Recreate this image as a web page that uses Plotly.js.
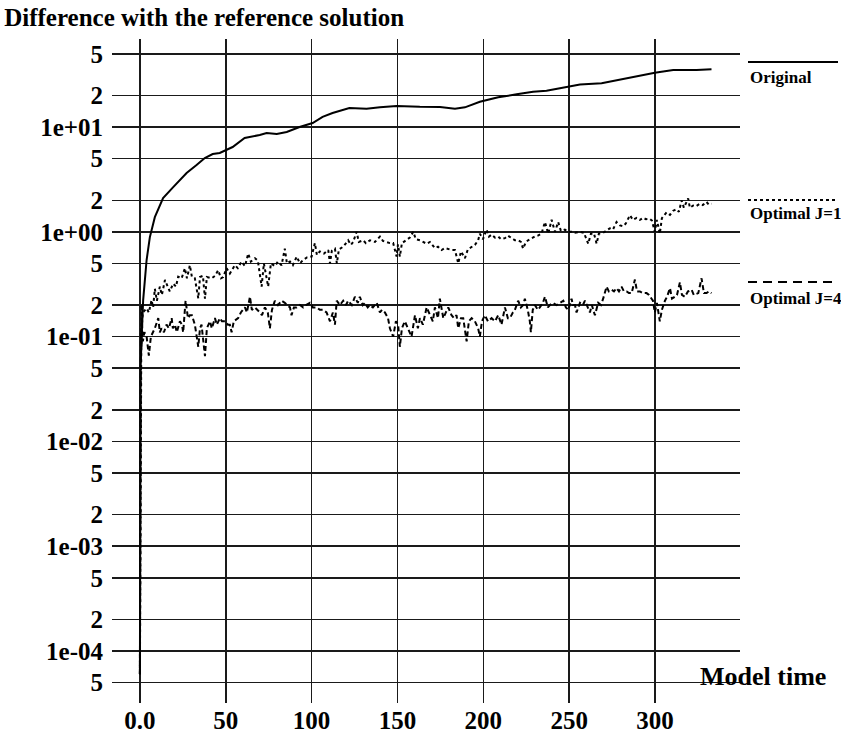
<!DOCTYPE html>
<html>
<head>
<meta charset="utf-8">
<script src="https://cdn.plot.ly/plotly-3.0.1.min.js"></script>
<style>html,body{margin:0;padding:0;background:#fff;}#chart{width:841px;height:735px;}</style>
</head>
<body>
<div id="chart"></div>
<script>
// ---- data ----
const origT = [0, 0.05, 0.15, 0.4, 1.0, 1.9, 3.9, 5.8, 8.7, 13.5, 19.4, 27.2, 33, 37.8, 42.4, 46.5, 54, 61, 69.8, 73.8, 79.7, 85.5, 93, 100.6, 106.4, 112.2, 122, 132, 139.8, 149.5, 163, 174.8, 183.5, 189.3, 198, 208.7, 219.4, 229, 236.8, 248.5, 256.3, 268.9, 279.6, 289.3, 299.9, 310.6, 324.2, 332.9];
const origV = [6e-5, 1e-3, 1e-2, 0.05, 0.099, 0.223, 0.538, 0.89, 1.38, 2.10, 2.67, 3.64, 4.34, 5.06, 5.52, 5.65, 6.44, 7.85, 8.40, 8.77, 8.58, 8.96, 10.0, 10.9, 12.5, 13.6, 15.2, 14.9, 15.4, 15.9, 15.6, 15.5, 14.9, 15.4, 17.4, 19.2, 20.5, 21.7, 22.2, 24.2, 25.5, 26.1, 28.3, 30.2, 33.0, 35.0, 35.0, 35.6];

const j1T = [0, 0.6, 0.9, 1.2, 1.7, 3.9, 5.2, 6.8, 7.7, 8.7, 9.9, 11.6, 12.8, 14.6, 16.5, 17.4, 19.4, 21, 22.3, 24.3, 26.2, 27.4, 29.1, 30.3, 32, 34, 35, 36.7, 37.9, 39, 41.8, 43.7, 45.6, 47.2, 48.5, 50.5, 52.4, 55.3, 57, 59.2, 61.2, 63.1, 64.6, 67, 68.7, 70.9, 72.2, 74.7, 76.3, 78.6, 80.4, 82.5, 84.4, 85.6, 87.4, 89.1, 91.3, 93.2, 95.1, 97.3, 100, 101.9, 103.1, 104.8, 107.2, 109.7, 110.7, 111.8, 113.6, 114.7, 115.9, 118.4, 121.3, 122.9, 124.2, 126.2, 127.5, 130, 131.6, 134, 136.9, 139.8, 141.5, 143.7, 145.6, 147.5, 149.5, 150.3, 151.4, 152.6, 155.3, 157.2, 159.2, 160.7, 163.1, 164.8, 167, 168.9, 171.8, 173.6, 175.7, 177.6, 179.6, 181.7, 183.5, 185.4, 187, 189.3, 191, 193.2, 195.1, 197, 198, 199.8, 201.9, 203.3, 204.8, 206.8, 208.7, 210.3, 212.6, 214.3, 216.5, 218.4, 220.3, 221.9, 223.2, 224.8, 226.1, 227.7, 230, 231.8, 233.9, 235.9, 237.8, 239.8, 241.7, 243.6, 245.2, 247.5, 249.3, 251.4, 253.4, 256.3, 258.6, 261.1, 262.7, 264.4, 266, 267.3, 269.8, 271.4, 273.7, 275.5, 277.6, 279.6, 281.5, 283, 285.4, 287.1, 289.3, 291.2, 293.1, 294.7, 297, 298.2, 299.9, 301.1, 302.8, 304, 306.7, 308.7, 310.6, 312.6, 313.9, 315.5, 316.8, 319.3, 320.3, 322.2, 323.8, 326.1, 327.8, 330, 331.3, 332.9];
const j1V = [6e-5, 0.12, 0.2, 0.13, 0.17, 0.186, 0.17, 0.223, 0.19, 0.286, 0.22, 0.30, 0.25, 0.347, 0.30, 0.27, 0.32, 0.30, 0.373, 0.36, 0.449, 0.36, 0.48, 0.37, 0.36, 0.232, 0.37, 0.38, 0.23, 0.37, 0.36, 0.38, 0.43, 0.36, 0.37, 0.45, 0.40, 0.48, 0.45, 0.52, 0.47, 0.62, 0.52, 0.56, 0.53, 0.30, 0.50, 0.30, 0.50, 0.47, 0.52, 0.48, 0.69, 0.50, 0.52, 0.48, 0.58, 0.50, 0.54, 0.57, 0.58, 0.78, 0.60, 0.65, 0.62, 0.67, 0.50, 0.66, 0.69, 0.50, 0.68, 0.72, 0.83, 0.75, 0.80, 1.0, 0.80, 0.83, 0.78, 0.83, 0.80, 0.90, 0.82, 0.80, 0.78, 0.78, 0.58, 0.76, 0.58, 0.78, 0.83, 0.88, 1.0, 0.85, 0.83, 0.80, 0.77, 0.80, 0.70, 0.72, 0.67, 0.70, 0.68, 0.67, 0.67, 0.50, 0.65, 0.56, 0.68, 0.72, 0.75, 0.83, 0.96, 0.85, 1.05, 0.90, 0.94, 0.88, 0.90, 0.85, 0.87, 0.92, 0.87, 0.83, 0.83, 0.80, 0.69, 0.80, 0.83, 0.86, 0.90, 0.92, 0.96, 1.24, 0.96, 1.3, 1.0, 1.24, 1.02, 1.05, 1.0, 1.0, 0.98, 1.0, 0.98, 0.77, 0.96, 0.97, 0.77, 0.96, 0.98, 1.02, 1.08, 1.05, 1.24, 1.15, 1.13, 1.2, 1.44, 1.3, 1.36, 1.3, 1.36, 1.32, 1.33, 1.28, 1.0, 1.3, 0.96, 1.35, 1.53, 1.45, 1.59, 1.64, 1.55, 1.99, 1.7, 2.08, 1.7, 1.78, 1.75, 1.85, 1.8, 1.93, 1.82, 1.85];

const j4T = [0, 0.3, 0.6, 0.9, 1.2, 1.7, 2.6, 3.9, 4.7, 5.2, 6.4, 7.6, 8.7, 10.7, 11.6, 12.6, 14, 15.5, 16.9, 18.5, 19.2, 20.4, 21.5, 23.3, 24.5, 25.2, 26.6, 28, 29.1, 30.3, 32, 34, 35, 35.9, 36.7, 37.9, 39, 40.8, 41.9, 43.7, 44.8, 46.6, 47.8, 49.5, 51.3, 52.4, 53.4, 54.7, 57.2, 58.8, 61.2, 62.3, 64.1, 65.2, 67, 68.7, 69.9, 71.1, 72.8, 74.5, 75.7, 76.9, 78.6, 80.4, 82.5, 84.4, 86.2, 87.4, 88.3, 89.7, 91.3, 93.2, 95.1, 96.7, 99, 100.7, 102.9, 104.8, 106.7, 108.7, 110.7, 112.4, 113.6, 114.6, 116.5, 118.4, 120, 121.3, 123.4, 125.2, 126.9, 128.1, 129.8, 131, 132.7, 133.9, 135.7, 137.9, 139.8, 141, 142.7, 144.5, 145.6, 147.5, 149.1, 150.4, 151.4, 152.6, 154.3, 156.1, 158.2, 160.2, 161.9, 163.1, 164.8, 167, 168.9, 170.6, 171.8, 173.6, 174.7, 176.7, 178.2, 179.6, 181.5, 182.9, 184.4, 185.4, 187, 188.3, 190.3, 191.6, 193.2, 195.1, 197, 198, 199.2, 200.9, 202.7, 204.8, 206.8, 208.7, 210.6, 212.6, 214.3, 215.5, 217.2, 218.4, 220.3, 221.9, 223.2, 224.2, 225.9, 227.1, 227.7, 228.8, 230, 231.8, 232.9, 234.7, 235.9, 237.6, 238.8, 240.5, 242.7, 244.6, 246.6, 248.1, 249.5, 251.4, 252.2, 253.4, 254.3, 256.3, 258, 259.2, 260.9, 262.1, 263.2, 265, 266.9, 268.5, 269.8, 271.8, 273.1, 274.7, 276.1, 277.6, 279, 280.5, 281.9, 283.5, 284.8, 286.4, 288.3, 289.5, 291.2, 293, 295.1, 296.5, 298, 298.8, 299.9, 301.1, 302.8, 304, 305.8, 307, 308.7, 309.9, 311.6, 312.8, 314.5, 315.7, 317.4, 319.2, 321.3, 322.6, 325.2, 327.1, 328.5, 330, 331.4, 332.9];
const j4V = [6e-5, 0.06, 0.12, 0.08, 0.14, 0.09, 0.11, 0.10, 0.08, 0.066, 0.10, 0.11, 0.12, 0.15, 0.11, 0.12, 0.11, 0.13, 0.12, 0.15, 0.12, 0.13, 0.11, 0.14, 0.13, 0.11, 0.22, 0.15, 0.16, 0.16, 0.13, 0.08, 0.12, 0.13, 0.10, 0.065, 0.12, 0.14, 0.12, 0.15, 0.13, 0.15, 0.14, 0.14, 0.13, 0.13, 0.11, 0.14, 0.15, 0.17, 0.19, 0.17, 0.24, 0.18, 0.19, 0.18, 0.17, 0.16, 0.19, 0.17, 0.12, 0.18, 0.22, 0.20, 0.22, 0.21, 0.20, 0.19, 0.16, 0.19, 0.19, 0.20, 0.19, 0.20, 0.21, 0.19, 0.19, 0.18, 0.18, 0.17, 0.14, 0.17, 0.13, 0.22, 0.20, 0.22, 0.20, 0.22, 0.20, 0.24, 0.21, 0.24, 0.20, 0.21, 0.19, 0.20, 0.19, 0.21, 0.17, 0.18, 0.17, 0.15, 0.12, 0.10, 0.14, 0.13, 0.08, 0.12, 0.14, 0.12, 0.10, 0.16, 0.12, 0.15, 0.13, 0.19, 0.16, 0.14, 0.19, 0.15, 0.23, 0.15, 0.17, 0.19, 0.16, 0.15, 0.16, 0.12, 0.15, 0.15, 0.09, 0.14, 0.15, 0.14, 0.12, 0.10, 0.14, 0.16, 0.14, 0.15, 0.14, 0.16, 0.13, 0.19, 0.15, 0.15, 0.17, 0.18, 0.22, 0.19, 0.20, 0.23, 0.18, 0.14, 0.11, 0.18, 0.20, 0.18, 0.19, 0.21, 0.24, 0.19, 0.20, 0.21, 0.20, 0.21, 0.22, 0.19, 0.18, 0.23, 0.20, 0.20, 0.17, 0.21, 0.20, 0.22, 0.19, 0.17, 0.20, 0.16, 0.21, 0.20, 0.23, 0.30, 0.27, 0.28, 0.27, 0.29, 0.27, 0.30, 0.27, 0.27, 0.26, 0.26, 0.35, 0.27, 0.27, 0.26, 0.26, 0.25, 0.23, 0.22, 0.17, 0.21, 0.14, 0.18, 0.22, 0.24, 0.29, 0.23, 0.24, 0.25, 0.33, 0.25, 0.24, 0.27, 0.28, 0.25, 0.26, 0.36, 0.26, 0.26, 0.27, 0.26];

const seriesNames = ["Original", "Optimal J=1", "Optimal J=4"];
const xTickVals = [0, 50, 100, 150, 200, 250, 300];
const xTickText = ["0.0", "50", "100", "150", "200", "250", "300"];
const yTickVals = [5e-5, 1e-4, 2e-4, 5e-4, 1e-3, 2e-3, 5e-3, 1e-2, 2e-2, 5e-2, 1e-1, 2e-1, 5e-1, 1, 2, 5, 10, 20, 50];
const yTickText = ["5", "1e-04", "2", "5", "1e-03", "2", "5", "1e-02", "2", "5", "1e-01", "2", "5", "1e+00", "2", "5", "1e+01", "2", "5"];
const titleText = "Difference with the reference solution";
const xTitleText = "Model time";

// ---- plot ----
const FONT = "Liberation Serif, Times New Roman, serif";
const traces = [
  {x: origT, y: origV, name: seriesNames[0], mode: "lines", line: {color: "#000", width: 2}},
  {x: j1T, y: j1V, name: seriesNames[1], mode: "lines", line: {color: "#000", width: 2, dash: "dot"}},
  {x: j4T, y: j4V, name: seriesNames[2], mode: "lines", line: {color: "#000", width: 2, dash: "5px,3px"}}
];

function px2x(p) { return (p - 112) / 628; }
function px2y(p) { return (703 - p) / 664; }

const legendShapes = [
  {type: "line", xref: "paper", yref: "paper", x0: px2x(748), x1: px2x(838), y0: px2y(62), y1: px2y(62), line: {color: "#000", width: 2}},
  {type: "line", xref: "paper", yref: "paper", x0: px2x(748), x1: px2x(837), y0: px2y(200), y1: px2y(200), line: {color: "#000", width: 2, dash: "dot"}},
  {type: "line", xref: "paper", yref: "paper", x0: px2x(748), x1: px2x(834), y0: px2y(282), y1: px2y(282), line: {color: "#000", width: 2, dash: "9px,6px"}}
];
const legendAnn = [
  {text: seriesNames[0], x: px2x(748), y: px2y(77)},
  {text: seriesNames[1], x: px2x(748), y: px2y(214)},
  {text: seriesNames[2], x: px2x(748), y: px2y(298)}
].map(a => Object.assign(a, {xref: "paper", yref: "paper", xanchor: "left", yanchor: "middle", showarrow: false,
  font: {family: FONT, size: 17, color: "#000", weight: "bold"}}));

const layout = {
  width: 841, height: 735,
  margin: {l: 112, r: 101, t: 39, b: 32, pad: 0},
  paper_bgcolor: "#fff", plot_bgcolor: "#fff",
  showlegend: false,
  font: {family: FONT, color: "#000", weight: "bold"},
  title: {text: titleText, x: 0.005, xref: "container", xanchor: "left", y: 1 - 17 / 735, yref: "container", yanchor: "middle",
          font: {family: FONT, size: 25, color: "#000", weight: "bold"}},
  xaxis: {
    range: [-16.25, 349.5], tickvals: xTickVals, ticktext: xTickText,
    showgrid: true, gridcolor: "#1a1a1a", gridwidth: 1.5, zeroline: false, showline: false,
    ticks: "", ticklabelstandoff: 0,
    tickfont: {family: FONT, size: 25, color: "#000", weight: "bold"}
  },
  yaxis: {
    type: "log", range: [-4.496, 1.8397], tickvals: yTickVals, ticktext: yTickText,
    showgrid: true, gridcolor: "#1a1a1a", gridwidth: 1.5, zeroline: false, showline: false,
    ticks: "", ticklabelstandoff: 8,
    tickfont: {family: FONT, size: 25, color: "#000", weight: "bold"}
  },
  shapes: legendShapes,
  annotations: legendAnn.concat([
    {text: xTitleText, xref: "paper", yref: "paper", x: px2x(763), y: px2y(676), xanchor: "center", yanchor: "middle", showarrow: false,
     font: {family: FONT, size: 26, color: "#000", weight: "bold"}}
  ])
};

Plotly.newPlot("chart", traces, layout, {displayModeBar: false, staticPlot: true});
</script>
</body>
</html>
